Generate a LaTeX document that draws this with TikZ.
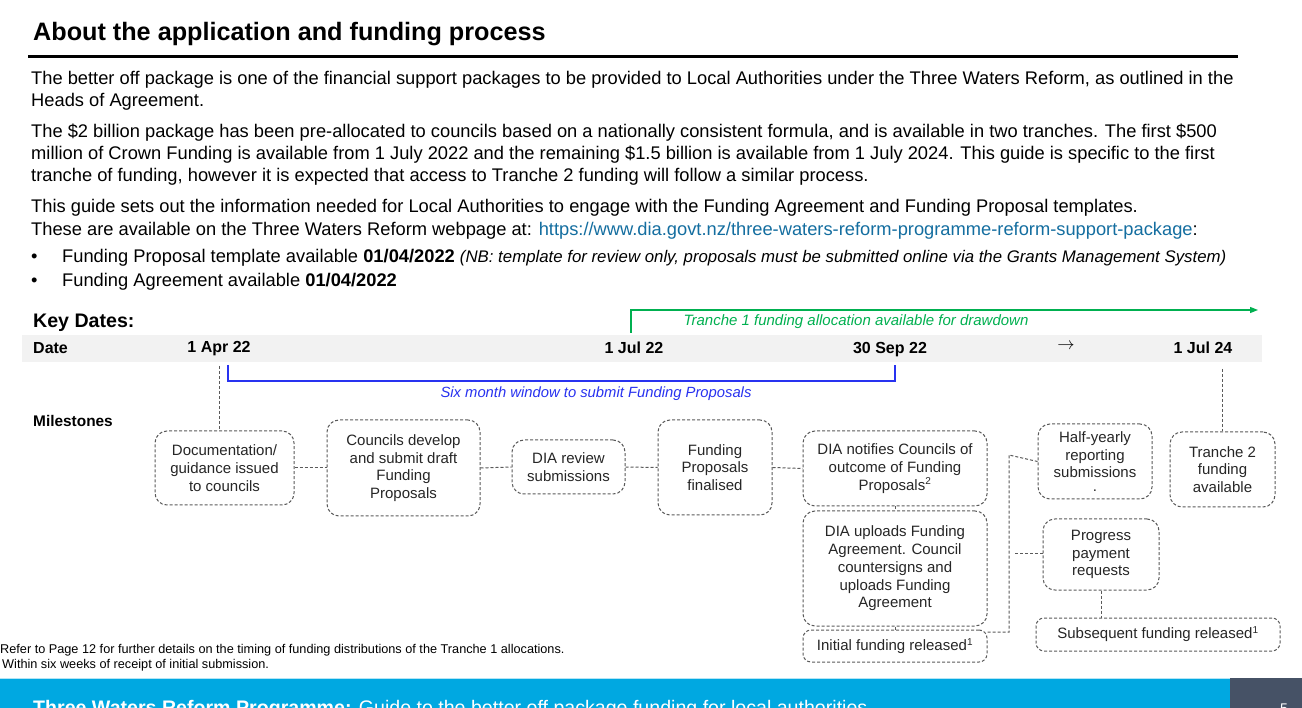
\documentclass[tikz,border=0pt]{standalone}
\usepackage{fontspec}
\usepackage{graphicx}
\setmainfont{Liberation Sans}
\usetikzlibrary{arrows.meta}
\definecolor{boxgray}{RGB}{90,90,90}
\definecolor{boxtext}{RGB}{38,38,38}
\definecolor{bandgray}{RGB}{242,242,242}
\definecolor{tgreen}{RGB}{0,176,80}
\definecolor{tblue}{RGB}{40,50,240}
\definecolor{linkcol}{RGB}{20,110,160}
\definecolor{footcyan}{RGB}{0,168,225}
\definecolor{footdark}{RGB}{70,82,102}
\tikzset{
  body/.style={anchor=base west, inner sep=0pt, font=\fontsize{18.3}{22}\selectfont},
  mbox/.style={draw=boxgray, line width=1pt, dash pattern=on 3pt off 2pt, rounded corners=12pt,
    align=center, inner sep=0pt, text=boxtext, font=\fontsize{15}{17.7}\selectfont},
  conn/.style={draw=boxgray, line width=1pt, dash pattern=on 3pt off 2pt},
  datelbl/.style={anchor=base, inner sep=0pt, font=\bfseries\fontsize{16}{18}\selectfont},
  rowlbl/.style={anchor=base west, inner sep=0pt, font=\bfseries\fontsize{16}{18}\selectfont},
  note/.style={anchor=base west, inner sep=0pt, font=\fontsize{12.7}{14}\selectfont}
}
\begin{document}
\begin{tikzpicture}[x=1pt,y=-1pt]
\useasboundingbox (0,0) rectangle (1302,708);
\fill[white] (0,0) rectangle (1302,708);
% title
\node[anchor=base west, inner sep=0pt, font=\bfseries\fontsize{25.2}{28}\selectfont] (title) at (33,41) {About the application and funding process};
\draw[line width=3pt] (28,57) -- (1238,57);
% body
\node[body] (p1a) at (31,85) {The better off package is one of the financial support packages to be provided to Local Authorities under the Three Waters Reform, as outlined in the};
\node[body] (p1b) at (31,107) {Heads of Agreement.};
\node[body] (p2a) at (31,138) {The \$2 billion package has been pre-allocated to councils based on a nationally consistent formula, and is available in two tranches. The first \$500};
\node[body] (p2b) at (31,160) {million of Crown Funding is available from 1 July 2022 and the remaining \$1.5 billion is available from 1 July 2024. This guide is specific to the first};
\node[body] (p2c) at (31,182) {tranche of funding, however it is expected that access to Tranche 2 funding will follow a similar process.};
\node[body] (p3a) at (31,213) {This guide sets out the information needed for Local Authorities to engage with the Funding Agreement and Funding Proposal templates.};
\node[body] (p3b) at (31,236) {These are available on the Three Waters Reform webpage at: \textcolor{linkcol}{https://www.dia.govt.nz/three-waters-reform-programme-reform-support-package}:};
\node[body] (bul1) at (31,263) {•};
\node[body] (l1) at (62,263) {Funding Proposal template available \textbf{01/04/2022} {\itshape\fontsize{16.8}{18}\selectfont (NB: template for review only, proposals must be submitted online via the Grants Management System)}};
\node[body] (bul2) at (31,287) {•};
\node[body] (l2) at (62,287) {Funding Agreement available \textbf{01/04/2022}};
% key dates
\node[anchor=base west, inner sep=0pt, font=\bfseries\fontsize{19.6}{22}\selectfont] (kd) at (33,328) {Key Dates:};
\fill[bandgray] (22,335) rectangle (1262,362);
\node[rowlbl] (datelab) at (33,354) {Date};
\node[datelbl] (dApr) at (219,353) {1 Apr 22};
\node[datelbl] (dJul) at (634,354) {1 Jul 22};
\node[datelbl] (dSep) at (890,354) {30 Sep 22};
\node[datelbl, font=\fontsize{18}{18}\selectfont] (dArr) at (1066,350) {$\rightarrow$};
\node[datelbl] (dJul24) at (1203,354) {1 Jul 24};
% green tranche arrow
\coordinate (g0) at (631,333);
\coordinate (g1) at (1258,310);
\draw[tgreen, line width=1.3pt, -{Triangle[length=8pt,width=6pt]}] (g0) |- (g1);
\node[anchor=base, inner sep=0pt, text=tgreen, font=\itshape\fontsize{15}{17}\selectfont] (tr1) at (856,326) {Tranche 1 funding allocation available for drawdown};
% blue bracket
\coordinate (bl0) at (228,365);
\coordinate (bl1) at (895,381);
\coordinate (bl2) at (895,365);
\draw[tblue, line width=1.3pt] (bl0) |- (bl1) -- (bl2);
\node[anchor=base, inner sep=0pt, text=tblue, font=\itshape\fontsize{14.8}{17}\selectfont] (six) at (596,398) {Six month window to submit Funding Proposals};
\node[rowlbl, font=\bfseries\fontsize{15.4}{17}\selectfont] (mil) at (33,427) {Milestones};
% boxes
\node[mbox, minimum width=139pt, minimum height=74pt] (b1) at (224.5,468) {Documentation/\\guidance issued\\to councils};
\node[mbox, minimum width=153pt, minimum height=96pt] (b2) at (403.5,468) {Councils develop\\and submit draft\\Funding\\Proposals};
\node[mbox, minimum width=113pt, minimum height=54pt] (b3) at (568.5,467) {DIA review\\submissions};
\node[mbox, minimum width=114pt, minimum height=95pt] (b4) at (715,467.5) {Funding\\Proposals\\finalised};
\node[mbox, minimum width=184pt, minimum height=75pt] (b5) at (895,468.5) {DIA notifies Councils of\\outcome of Funding\\Proposals\textsuperscript{\fontsize{10}{10}\selectfont 2}};
\node[mbox, minimum width=184pt, minimum height=115pt] (b6) at (895,568.5) {DIA uploads Funding\\Agreement. Council\\countersigns and\\uploads Funding\\Agreement};
\node[mbox, minimum width=184pt, minimum height=32pt, rounded corners=8pt] (b7) at (895,646) {Initial funding released\textsuperscript{\fontsize{10}{10}\selectfont 1}};
\node[mbox, minimum width=114pt, minimum height=75pt] (b8) at (1095,461.5) {Half-yearly\\reporting\\submissions\\[-4pt].};
\node[mbox, minimum width=105pt, minimum height=75pt] (b9) at (1222.5,469.5) {Tranche 2\\funding\\available};
\node[mbox, minimum width=116pt, minimum height=71pt] (b10) at (1101,554.5) {Progress\\payment\\requests};
\node[mbox, minimum width=244pt, minimum height=33pt, rounded corners=8pt] (b11) at (1158,634.5) {Subsequent funding released\textsuperscript{\fontsize{10}{10}\selectfont 1}};
% connectors
\draw[conn] (b1.east) -- (b2.west);
\draw[conn] (b2.east) -- (b3.west);
\draw[conn] (b3.east) -- (b4.west);
\draw[conn] (b4.east) -- (b5.west);
\draw[conn] (b5.south) -- (b6.north);
\draw[conn] (b6.south) -- (b7.north);
\coordinate (j1) at (1009,632);
\coordinate (j2) at (1009,455);
\coordinate (j3) at (1015,553);
\draw[conn] (b7.east |- j1) -- (j1) -- (j2) -- (b8.west);
\draw[conn] (j3) -- (j3 -| b10.west);
\draw[conn] (b10.south) -- (b10.south |- b11.north);
\coordinate (d1) at (219,366);
\draw[conn] (d1) -- (d1 |- b1.north);
\coordinate (d2) at (1222,369);
\draw[conn] (d2) -- (d2 |- b9.north);
% footnotes
\node[note] (fn1) at (0,653) {Refer to Page 12 for further details on the timing of funding distributions of the Tranche 1 allocations.};
\node[note] (fn2) at (2,668) {Within six weeks of receipt of initial submission.};
% footer
\begin{scope}
\clip (0,0) rectangle (1302,708);
\fill[footcyan] (0,678) rectangle (1302,708);
\draw[white!70!footcyan, line width=1pt] (0,678.5) -- (1302,678.5);
\fill[footdark] (1230,678) rectangle (1302,708);
\node[anchor=base west, inner sep=0pt, text=white, font=\fontsize{19.6}{22}\selectfont] (foot) at (33,714) {\textbf{Three Waters Reform Programme:} Guide to the better off package funding for local authorities};
\node[anchor=base, inner sep=0pt, text=white, font=\fontsize{14}{16}\selectfont] (pg) at (1284,713) {5};
\end{scope}
\end{tikzpicture}
\end{document}
